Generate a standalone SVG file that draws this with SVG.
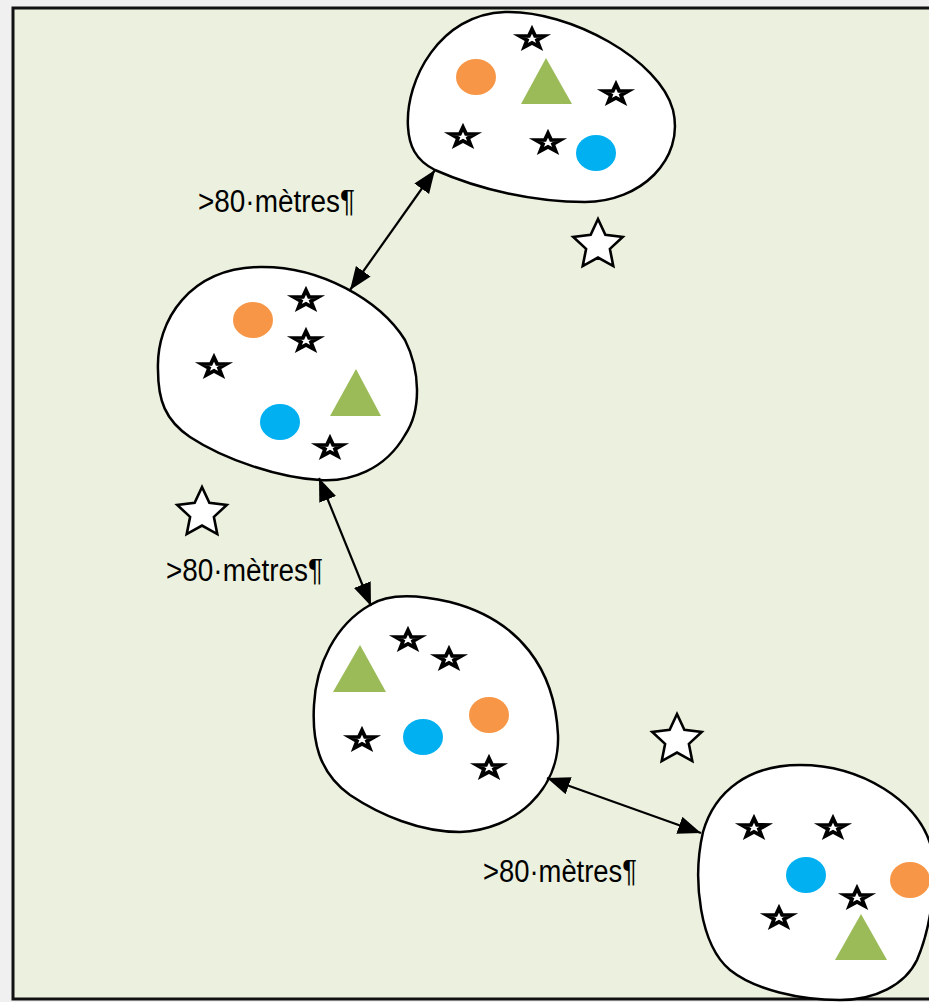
<svg xmlns="http://www.w3.org/2000/svg" width="929" height="1002" viewBox="0 0 929 1002">
<style>
.blob{fill:#fff;stroke:#000;stroke-width:2.5}
.org{fill:#F79646}
.blu{fill:#00B0F0}
.grn{fill:#9BBB59}
.lbl{font-family:"Liberation Sans",Arial,sans-serif;font-size:31px;fill:#000}
.conn{stroke:#000;stroke-width:2.2;fill:none}
</style>
<defs>
<path id="ss" d="M0,-9.8 L3.1,-3.2 L12.3,-3 L5,1.2 L7.6,7.9 L0,3.9 L-7.6,7.9 L-5,1.2 L-12.3,-3 L-3.1,-3.2 Z" fill="#fff" stroke="#000" stroke-width="3.8"/>
<path id="ls" d="M0,-26 L7.35,-10.1 L24.73,-8.03 L11.9,3.9 L15.28,21.03 L0,12.5 L-15.28,21.03 L-11.9,3.9 L-24.73,-8.03 L-7.35,-10.1 Z" fill="#fff" stroke="#000" stroke-width="2.6"/>
<marker id="ah" markerUnits="userSpaceOnUse" markerWidth="26" markerHeight="20" refX="23" refY="9" orient="auto-start-reverse" viewBox="0 0 26 20">
<path d="M0,0 L23,9 L0,18 Z" fill="#000"/>
</marker>
</defs>
<rect x="0" y="0" width="929" height="1002" fill="#f0f0f0"/>
<rect x="13" y="8" width="950" height="991" fill="#EBF1DE" stroke="#111" stroke-width="3"/>

<g id="bigstars">
<use href="#ls" x="598" y="245"/>
<use href="#ls" x="202" y="513"/>
<use href="#ls" x="677" y="740"/>
</g>

<g id="site1">
<path class="blob" d="M408,127 C405,80 440,14 505,12 C570,10 660,60 673,110 C685,160 640,202 585,202 C535,202 480,190 435,170 C415,160 409,145 408,127 Z"/>
<ellipse class="org" cx="476" cy="77" rx="20" ry="18"/>
<polygon class="grn" points="546,58 521,104 572,104"/>
<ellipse class="blu" cx="596" cy="153" rx="20" ry="18"/>
<use href="#ss" x="532" y="39"/>
<use href="#ss" x="616" y="94"/>
<use href="#ss" x="463" y="137"/>
<use href="#ss" x="548" y="143"/>
</g>

<g id="site2">
<path class="blob" d="M158,370 C156,320 190,268 260,267 C320,266 380,300 405,340 C420,370 422,410 405,435 C385,470 350,482 320,480 C280,478 225,460 190,437 C165,420 158,400 158,370 Z"/>
<ellipse class="org" cx="253" cy="320" rx="20" ry="18"/>
<polygon class="grn" points="356,369 330,416 381,416"/>
<ellipse class="blu" cx="280" cy="422" rx="20" ry="18"/>
<use href="#ss" x="306" y="300"/>
<use href="#ss" x="306" y="341"/>
<use href="#ss" x="214" y="367"/>
<use href="#ss" x="330" y="448"/>
</g>

<g id="site3">
<path class="blob" d="M370,605 C390,592 420,595 450,602 C520,620 555,670 558,735 C560,790 515,830 460,832 C420,832 380,815 350,795 C318,772 312,740 314,705 C316,665 335,625 370,605 Z"/>
<polygon class="grn" points="360,645 333,692 386,692"/>
<ellipse class="org" cx="489" cy="715" rx="20" ry="18"/>
<ellipse class="blu" cx="423" cy="737" rx="20" ry="18"/>
<use href="#ss" x="408" y="640"/>
<use href="#ss" x="449" y="659"/>
<use href="#ss" x="362" y="740"/>
<use href="#ss" x="489" y="768"/>
</g>

<g id="site4">
<path class="blob" d="M703,832 C715,790 750,765 800,765 C860,765 920,800 932,850 C937,885 930,930 917,960 C905,985 875,1000 840,1000 C800,1000 755,990 730,970 C700,945 692,880 703,832 Z"/>
<ellipse class="blu" cx="806" cy="875" rx="20" ry="18"/>
<ellipse class="org" cx="910" cy="880" rx="20" ry="18"/>
<polygon class="grn" points="861,914 835,960 887,960"/>
<use href="#ss" x="754" y="828"/>
<use href="#ss" x="833" y="828"/>
<use href="#ss" x="857" y="898"/>
<use href="#ss" x="779" y="918"/>
</g>

<g id="connectors">
<line class="conn" x1="435" y1="170" x2="350" y2="290" marker-start="url(#ah)" marker-end="url(#ah)"/>
<line class="conn" x1="319" y1="478" x2="371" y2="606" marker-start="url(#ah)" marker-end="url(#ah)"/>
<line class="conn" x1="547" y1="778" x2="701" y2="833" marker-start="url(#ah)" marker-end="url(#ah)"/>
</g>

<g id="labels">
<text class="lbl" x="198" y="212" textLength="157" lengthAdjust="spacingAndGlyphs">&gt;80·mètres¶</text>
<text class="lbl" x="166" y="581" textLength="157" lengthAdjust="spacingAndGlyphs">&gt;80·mètres¶</text>
<text class="lbl" x="483" y="882" textLength="154" lengthAdjust="spacingAndGlyphs">&gt;80·mètres¶</text>
</g>
</svg>
